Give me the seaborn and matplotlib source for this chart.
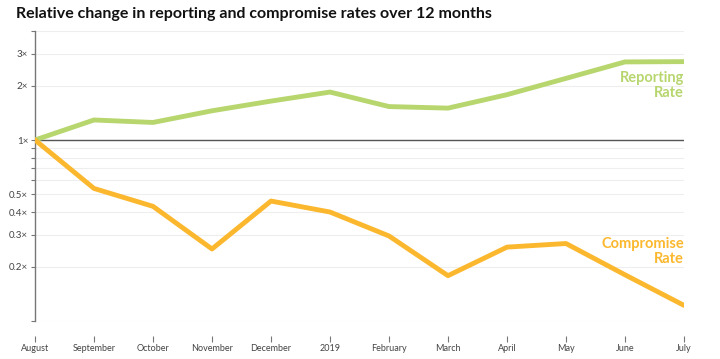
import matplotlib
matplotlib.use("Agg")
import matplotlib.pyplot as plt
import seaborn as sns
import pandas as pd

months = ["August", "September", "October", "November", "December", "2019",
          "February", "March", "April", "May", "June", "July"]
reporting_rate = [1.0, 1.29, 1.25, 1.45, 1.64, 1.84, 1.53, 1.50, 1.78, 2.19, 2.70, 2.71]
compromise_rate = [1.0, 0.54, 0.43, 0.25, 0.46, 0.40, 0.295, 0.178, 0.256, 0.268, 0.18, 0.122]

y_ticks = [0.1, 0.2, 0.3, 0.4, 0.5, 0.6, 0.7, 0.8, 0.9, 1, 2, 3, 4]
y_labels = ["", "0.2×", "0.3×", "0.4×", "0.5×", "", "", "", "", "1×", "2×", "3×", ""]

GREEN = "#b7d66e"
ORANGE = "#fbb82e"

sns.set_theme(style="white")
plt.rcParams["font.family"] = ["Lato", "DejaVu Sans"]

df = pd.DataFrame({
    "pos": list(range(len(months))) * 2,
    "value": reporting_rate + compromise_rate,
    "series": ["Reporting"] * len(months) + ["Compromise"] * len(months),
})

fig = plt.figure(figsize=(7.2, 3.59), dpi=100)
ax = fig.add_axes([0.0486, 0.1058, 0.9014, 0.8078])

ax.set_yscale("log")
ax.set_ylim(0.1, 4)
ax.set_xlim(0, len(months) - 1)

for y in y_ticks:
    if y == 1:
        ax.axhline(y, color="#555555", linewidth=1.0, zorder=1)
    else:
        ax.axhline(y, color="#eeeeee", linewidth=0.8, zorder=0)

sns.lineplot(data=df, x="pos", y="value", hue="series",
             palette={"Reporting": GREEN, "Compromise": ORANGE},
             linewidth=3.5, legend=False, ax=ax, zorder=3)

ax.set_yticks(y_ticks)
ax.set_yticklabels(y_labels)
ax.minorticks_off()
ax.set_xticks(range(len(months)))
ax.set_xticklabels(months)
ax.set_xlabel("")
ax.set_ylabel("")

for s in ["top", "right"]:
    ax.spines[s].set_visible(False)
ax.spines["left"].set_color("#777777")
ax.spines["left"].set_linewidth(1.0)
ax.spines["bottom"].set_position(("outward", 11))
ax.spines["bottom"].set_visible(False)

ax.tick_params(axis="y", left=True, length=3, width=0.8, color="#777777",
               labelsize=7, labelcolor="#444444", pad=2)
ax.tick_params(axis="x", bottom=True, length=4, width=0.8, color="#777777",
               labelsize=6.5, labelcolor="#444444", pad=1.5)

ax.text(len(months) - 1, 2.4, "Reporting\nRate", color=GREEN, fontsize=10.5,
        fontweight="bold", ha="right", va="top", linespacing=1.1)
ax.text(len(months) - 1, 0.29, "Compromise\nRate", color=ORANGE, fontsize=10.5,
        fontweight="bold", ha="right", va="top", linespacing=1.1)

fig.text(0.022, 0.96, "Relative change in reporting and compromise rates over 12 months",
         fontsize=11.5, fontweight="bold", color="#111111", ha="left", va="center")

fig.savefig("out.png", dpi=100)
